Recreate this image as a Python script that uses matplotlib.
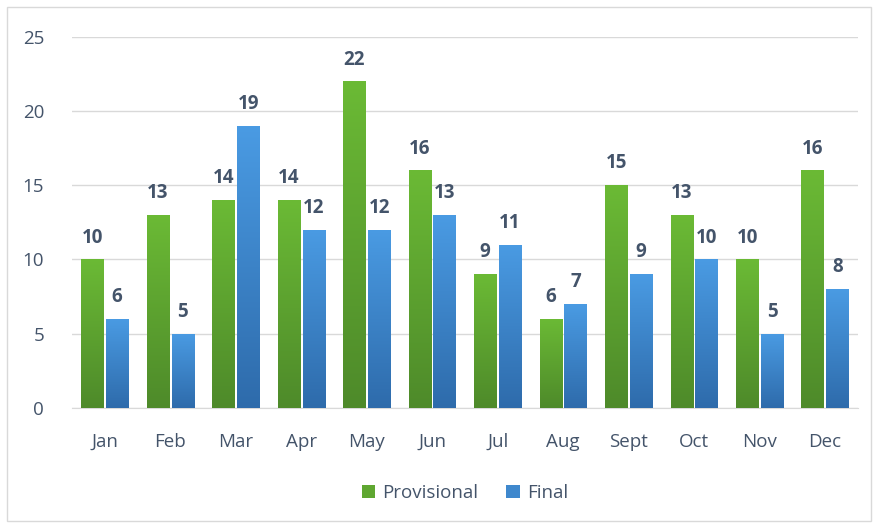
import numpy as np
import matplotlib.pyplot as plt
from matplotlib.colors import LinearSegmentedColormap
from matplotlib.patches import Rectangle

months = ['Jan', 'Feb', 'Mar', 'Apr', 'May', 'Jun', 'Jul', 'Aug', 'Sept', 'Oct', 'Nov', 'Dec']
provisional = [10, 13, 14, 14, 22, 16, 9, 6, 15, 13, 10, 16]
final = [6, 5, 19, 12, 12, 13, 11, 7, 9, 10, 5, 8]

plt.rcParams['font.family'] = ['Open Sans', 'DejaVu Sans']
txt = '#44546A'

fig = plt.figure(figsize=(8.78, 5.27), dpi=100)
ax = fig.add_axes([0.082, 0.226, 0.895, 0.704])

x = np.arange(len(months))
w = 0.34
off = 0.19

green = LinearSegmentedColormap.from_list('g', ['#4E8A2A', '#6BBA35'])
blue = LinearSegmentedColormap.from_list('b', ['#2E6BAB', '#4A9BE3'])
grad = np.linspace(0, 1, 256).reshape(-1, 1)

def gradient_bars(xs, vals, cmap, label):
    bars = ax.bar(xs, vals, w, color=cmap(0.6), label=label, zorder=2)
    for b in bars:
        x0, y0 = b.get_x(), b.get_y()
        im = ax.imshow(grad, cmap=cmap, aspect='auto', origin='lower',
                       extent=[x0, x0 + b.get_width(), y0, y0 + b.get_height()], zorder=3)
        im.set_clip_path(b)
    for xi, v in zip(xs, vals):
        ax.text(xi, v + 0.8, str(v), ha='center', va='bottom', fontsize=13.5,
                fontweight='bold', color=txt, zorder=4)
    return bars

gradient_bars(x - off, provisional, green, 'Provisional')
gradient_bars(x + off, final, blue, 'Final')

ax.set_xlim(-0.5, 11.5)
ax.set_ylim(0, 25)
ax.set_yticks(range(0, 26, 5))
ax.set_xticks(x)
ax.set_xticklabels(months)
ax.tick_params(length=0, labelsize=13.5, labelcolor=txt)
ax.tick_params(axis='y', pad=20)
ax.tick_params(axis='x', pad=18)
ax.grid(axis='y', color='#D9D9D9', lw=1, zorder=0)
for s in ['top', 'right', 'left']:
    ax.spines[s].set_visible(False)
ax.spines['bottom'].set_color('#D9D9D9')
ax.set_axisbelow(True)

leg = ax.legend(loc='lower center', bbox_to_anchor=(0.5, -0.30), ncol=2, frameon=False,
                fontsize=13.5, handlelength=0.7, handleheight=0.7, columnspacing=1.5,
                handletextpad=0.4, labelcolor=txt)

fig.patches.append(Rectangle((0.008, 0.012), 0.984, 0.975, transform=fig.transFigure,
                             fill=False, edgecolor='#D9D9D9', lw=1))

fig.savefig('out.png', dpi=100)
